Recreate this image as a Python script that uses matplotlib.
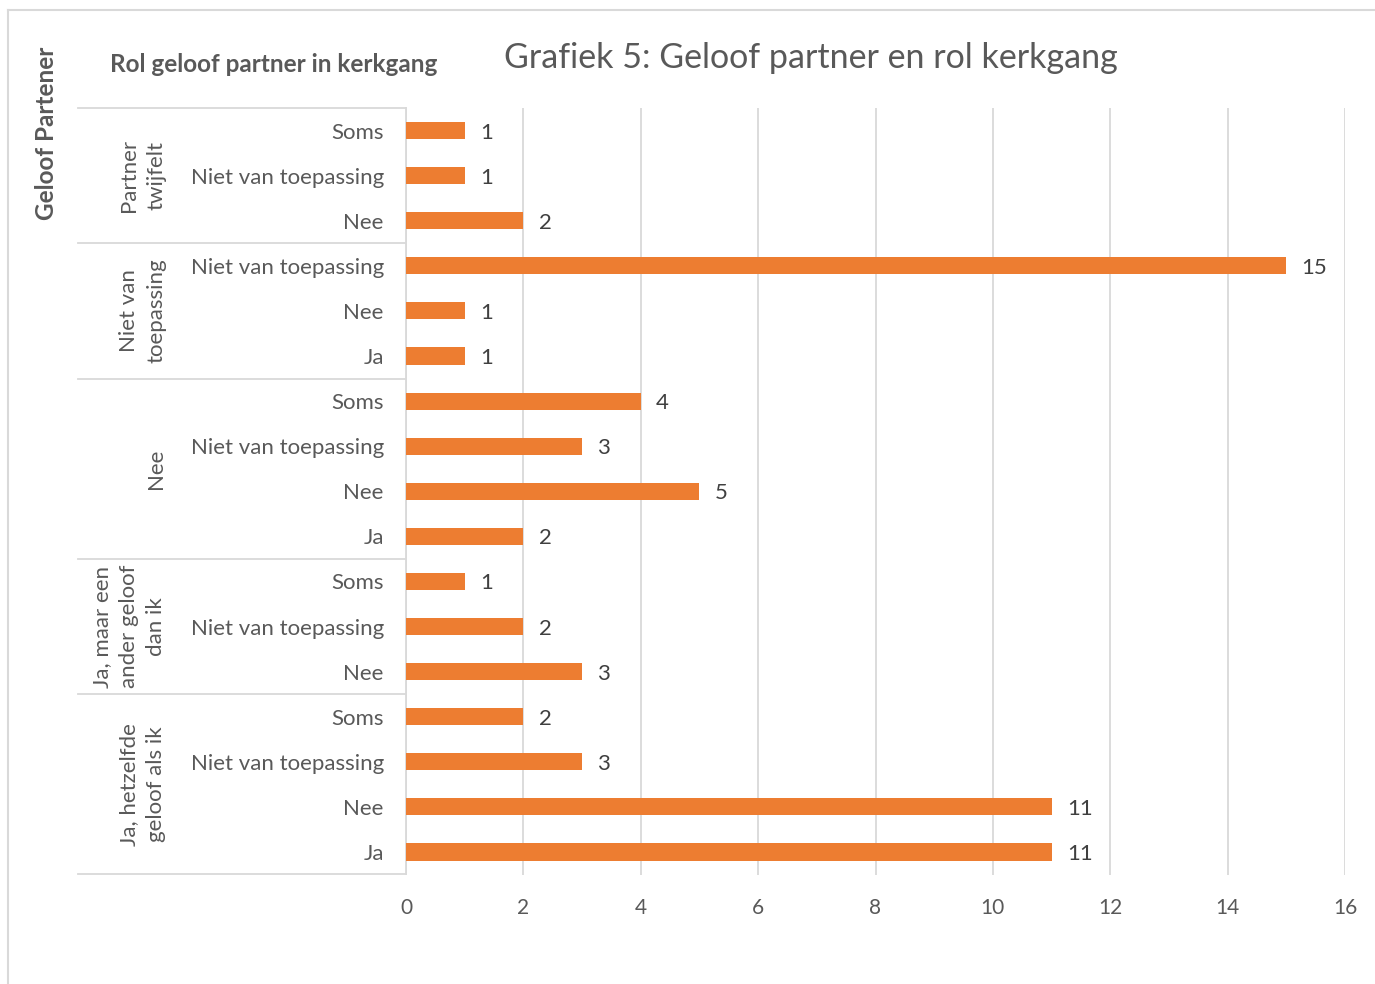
import matplotlib
matplotlib.use("Agg")
import matplotlib.pyplot as plt
import matplotlib.transforms as mtransforms
from matplotlib.lines import Line2D

plt.rcParams['font.family'] = ['Lato', 'DejaVu Sans']

# data, top to bottom
groups = ["Partner\ntwijfelt", "Niet van\ntoepassing", "Nee",
          "Ja, maar een\nander geloof\ndan ik", "Ja, hetzelfde\ngeloof als ik"]
categories = [
    ["Soms", "Niet van toepassing", "Nee"],
    ["Niet van toepassing", "Nee", "Ja"],
    ["Soms", "Niet van toepassing", "Nee", "Ja"],
    ["Soms", "Niet van toepassing", "Nee"],
    ["Soms", "Niet van toepassing", "Nee", "Ja"],
]
values = [
    [1, 1, 2],
    [15, 1, 1],
    [4, 3, 5, 2],
    [1, 2, 3],
    [2, 3, 11, 11],
]

orange = "#ED7D31"
grey_txt = "#595959"
grid_c = "#D9D9D9"

labels = [c for cats in categories for c in cats]
vals = [v for vs in values for v in vs]
pos = list(range(len(vals)))

fig = plt.figure(figsize=(13.75, 9.84), dpi=100)
ax = fig.add_axes([406/1375, 1-874.5/984, 939/1375, 766.5/984])

ax.barh(pos, vals, height=0.38, color=orange, zorder=3)
for p, v in zip(pos, vals):
    ax.annotate(str(v), (v, p), xytext=(11, 0), textcoords="offset points",
                va="center_baseline", ha="left", fontsize=16, color="#404040")

ax.set_xlim(0, 16)
ax.set_ylim(len(vals) - 0.5, -0.5)
ax.set_xticks(range(0, 17, 2))
ax.set_yticks(pos)
ax.set_yticklabels(labels)
ax.tick_params(axis="y", length=0, pad=16, labelsize=16, labelcolor=grey_txt)
ax.tick_params(axis="x", length=0, pad=17, labelsize=15, labelcolor=grey_txt)
ax.grid(axis="x", color=grid_c, lw=1.3, zorder=0)
for s in ["top", "right", "bottom"]:
    ax.spines[s].set_visible(False)
ax.spines["left"].set_color(grid_c)
ax.spines["left"].set_linewidth(1.3)

# group separators and labels
trans = mtransforms.blended_transform_factory(ax.transAxes, ax.transData)
x0 = (78 - 406) / 939
start = -0.5
ax.plot([x0, 0], [start, start], transform=trans, color=grid_c, lw=1.3, clip_on=False)
for g, cats in zip(groups, categories):
    end = start + len(cats)
    ax.plot([x0, 0], [end, end], transform=trans, color=grid_c, lw=1.3, clip_on=False)
    ax.text((166 - 406) / 939, (start + end) / 2, g, transform=trans, rotation=90,
            ha="right", va="center", multialignment="center",
            fontsize=16, color=grey_txt, linespacing=1.45)
    start = end

fig.text(811/1375, 1-58/984, "Grafiek 5: Geloof partner en rol kerkgang",
         ha="center", va="center", fontsize=24.5, color=grey_txt)
fig.text(274/1375, 1-65/984, "Rol geloof partner in kerkgang",
         ha="center", va="center", fontsize=17.5, fontweight="bold", color=grey_txt)
fig.text(47/1375, 1-133/984, "Geloof Partener", rotation=90,
         ha="center", va="center", fontsize=17.5, fontweight="bold", color=grey_txt)

# outer chart border
fig.add_artist(Line2D([8/1375, 8/1375], [0, 1-10/984], color=grid_c, lw=1.5))
fig.add_artist(Line2D([8/1375, 1], [1-10/984, 1-10/984], color=grid_c, lw=1.5))

fig.savefig("out.png", dpi=100)
